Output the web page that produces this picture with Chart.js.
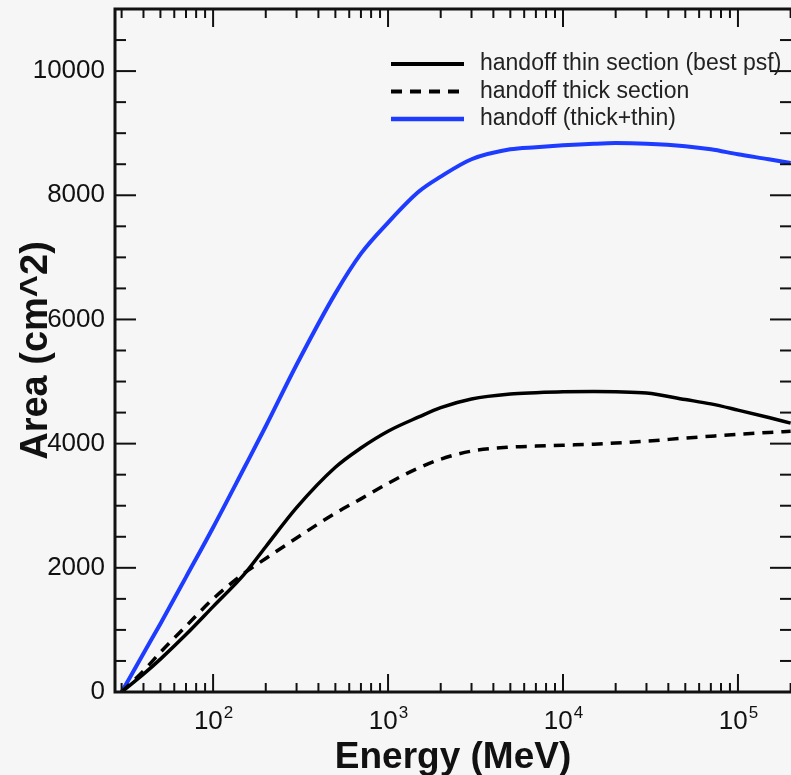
<!DOCTYPE html>
<html>
<head>
<meta charset="utf-8">
<script src="https://cdn.jsdelivr.net/npm/chart.js@4.4.0/dist/chart.umd.min.js"></script>
<style>
  html, body { margin: 0; padding: 0; background: #f6f6f6; }
  #wrap { width: 791px; height: 775px; }
</style>
</head>
<body>
<div id="wrap"><canvas id="areaChart" width="791" height="775"></canvas></div>
<script>
const energies = [30, 40, 50, 70, 100, 150, 200, 300, 500, 700, 1000, 1500, 2000, 3000,
                  5000, 7000, 10000, 15000, 20000, 30000, 50000, 70000, 100000, 150000, 200000];
// effective area (cm^2)
const thinArea  = [0, 288, 530, 925, 1375, 1890, 2340, 2970, 3620, 3930, 4200, 4430, 4580, 4720,
                   4800, 4820, 4835, 4840, 4835, 4815, 4710, 4640, 4540, 4420, 4330];
const thickArea = [0, 340, 640, 1060, 1500, 1910, 2150, 2480, 2880, 3110, 3360, 3610, 3750, 3880,
                   3945, 3960, 3975, 3990, 4010, 4040, 4090, 4120, 4150, 4180, 4200];
const totalArea = [0, 620, 1100, 1850, 2650, 3600, 4280, 5270, 6420, 7060, 7560, 8060, 8300, 8580,
                   8740, 8775, 8805, 8830, 8840, 8830, 8790, 8740, 8660, 8580, 8520];
const seriesLabels = ['handoff thin section (best psf)', 'handoff thick section', 'handoff (thick+thin)'];
const xTickValues = [100, 1000, 10000, 100000];
const yTickValues = [0, 2000, 4000, 6000, 8000, 10000];
const xMin = 27.5, xMax = 201000;
const yMin = 0, yMax = 11000, yMinorStep = 500;

const ink = '#111';

function toPoints(values) {
    return energies.map((e, i) => ({ x: e, y: values[i] }));
}

function strokeLine(ctx, x1, y1, x2, y2) {
    ctx.beginPath();
    ctx.moveTo(x1, y1);
    ctx.lineTo(x2, y2);
    ctx.stroke();
}

// frame, inward ticks, superscript labels and legend
const framePlugin = {
    id: 'frame',
    beforeDraw(chart) {
        const ctx = chart.ctx;
        ctx.save();
        ctx.fillStyle = '#f6f6f6';
        ctx.fillRect(0, 0, chart.width, chart.height);
        ctx.restore();
    },
    afterDraw(chart) {
        const { ctx, chartArea: a, scales: { x, y } } = chart;
        ctx.save();
        ctx.strokeStyle = ink;
        ctx.lineWidth = 2;

        // x ticks, bottom and top
        for (let p = 1; p <= 5; p++) {
            for (let m = 1; m <= 9; m++) {
                const v = m * Math.pow(10, p);
                if (v < xMin || v > xMax) continue;
                const px = x.getPixelForValue(v);
                const len = m === 1 ? 18 : 9;
                strokeLine(ctx, px, a.bottom, px, a.bottom - len);
                strokeLine(ctx, px, a.top, px, a.top + len);
            }
        }
        // y ticks, left and right
        for (let v = yMin; v <= yMax; v += yMinorStep) {
            const py = y.getPixelForValue(v);
            const len = v % 2000 === 0 ? 21 : 11;
            strokeLine(ctx, a.left, py, a.left + len, py);
            strokeLine(ctx, a.right, py, a.right - len, py);
        }

        ctx.lineWidth = 3;
        ctx.strokeRect(a.left, a.top, a.width + 2, a.height);

        // x tick labels as 10^n
        ctx.fillStyle = ink;
        ctx.textBaseline = 'alphabetic';
        xTickValues.forEach(v => {
            const px = x.getPixelForValue(v);
            const exp = String(Math.round(Math.log10(v)));
            ctx.font = '26px "Liberation Sans"';
            const wBase = ctx.measureText('10').width;
            ctx.font = '17px "Liberation Sans"';
            const wExp = ctx.measureText(exp).width;
            const left = px - (wBase + wExp) / 2;
            ctx.textAlign = 'left';
            ctx.font = '26px "Liberation Sans"';
            ctx.fillText('10', left, a.bottom + 37);
            ctx.font = '17px "Liberation Sans"';
            ctx.fillText(exp, left + wBase + 1, a.bottom + 26);
        });

        // legend
        ctx.textBaseline = 'middle';
        ctx.textAlign = 'left';
        ctx.font = '23px "Liberation Sans"';
        chart.data.datasets.forEach((ds, i) => {
            const ly = 64 + i * 27.5;
            ctx.strokeStyle = ds.borderColor;
            ctx.lineWidth = ds.borderWidth + 0.5;
            ctx.setLineDash(ds.borderDash || []);
            strokeLine(ctx, 391, ly, 464, ly);
            ctx.setLineDash([]);
            ctx.fillStyle = '#222';
            ctx.fillText(ds.label, 480, ly);
        });
        ctx.restore();
    }
};

const chart = new Chart(document.getElementById('areaChart'), {
    type: 'line',
    data: {
        datasets: [
            {
                label: seriesLabels[0],
                data: toPoints(thinArea),
                borderColor: '#000',
                borderWidth: 3.5,
                cubicInterpolationMode: 'monotone',
                pointRadius: 0,
                fill: false
            },
            {
                label: seriesLabels[1],
                data: toPoints(thickArea),
                borderColor: '#000',
                borderWidth: 3.5,
                borderDash: [11, 8],
                cubicInterpolationMode: 'monotone',
                pointRadius: 0,
                fill: false
            },
            {
                label: seriesLabels[2],
                data: toPoints(totalArea),
                borderColor: '#1e3cff',
                borderWidth: 4,
                cubicInterpolationMode: 'monotone',
                pointRadius: 0,
                fill: false
            }
        ]
    },
    options: {
        responsive: false,
        animation: false,
        layout: { padding: { top: 9, right: 0, left: 0, bottom: 0 } },
        plugins: {
            legend: { display: false },
            tooltip: { enabled: false }
        },
        scales: {
            x: {
                type: 'logarithmic',
                min: xMin,
                max: xMax,
                grid: { display: false },
                border: { display: false },
                ticks: { callback: () => '' },
                title: {
                    display: true,
                    text: 'Energy (MeV)',
                    color: ink,
                    font: { family: 'Liberation Sans', size: 37, weight: 'bold' },
                    padding: { top: 0, bottom: -5 }
                },
                afterFit: scale => {
                    scale.height = 83;
                    scale.paddingLeft = 0;
                    scale.paddingRight = 0;
                }
            },
            y: {
                type: 'linear',
                min: yMin,
                max: yMax,
                grid: { display: false, drawTicks: false },
                border: { display: false },
                afterBuildTicks: scale => {
                    scale.ticks = yTickValues.map(v => ({ value: v }));
                },
                ticks: {
                    autoSkip: false,
                    padding: 10,
                    color: ink,
                    font: { family: 'Liberation Sans', size: 26 },
                    callback: v => String(v)
                },
                title: {
                    display: true,
                    text: 'Area (cm^2)',
                    color: ink,
                    font: { family: 'Liberation Sans', size: 38, weight: 'bold' },
                    padding: { top: 14, bottom: 0 }
                },
                afterFit: scale => {
                    scale.width = 115;
                    scale.paddingTop = 0;
                    scale.paddingBottom = 0;
                }
            }
        }
    },
    plugins: [framePlugin]
});
</script>
</body>
</html>
